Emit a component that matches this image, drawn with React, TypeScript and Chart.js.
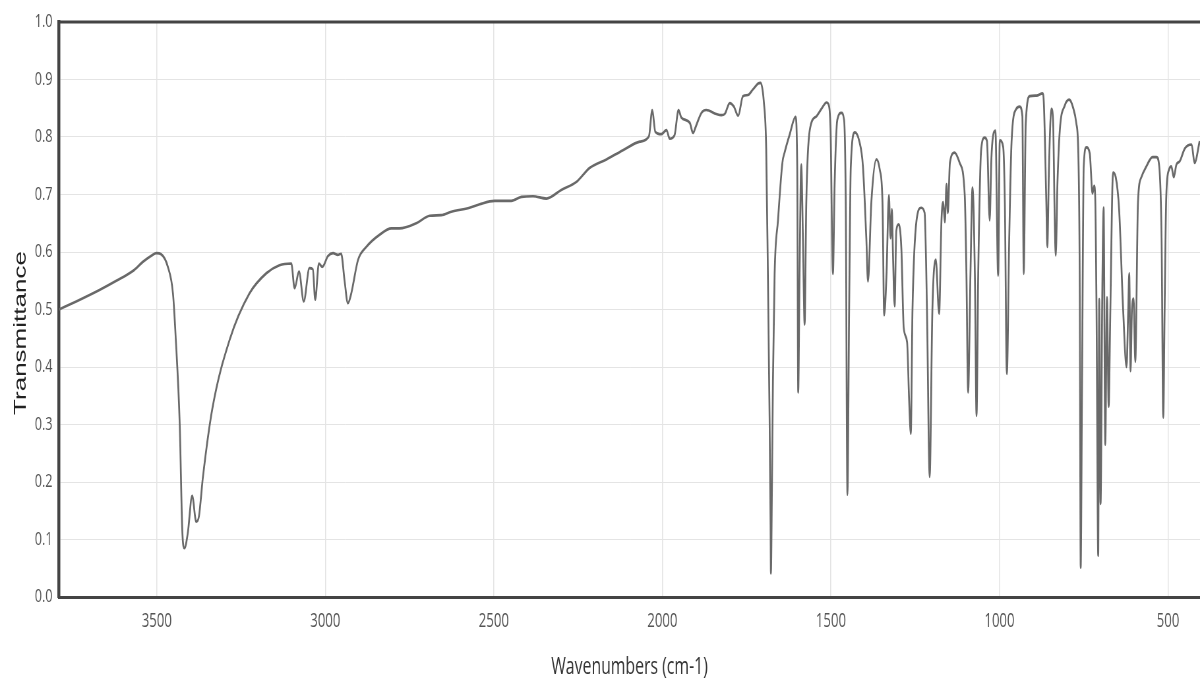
import React, { useEffect, useRef } from "react";
import { Chart, registerables } from "chart.js";

Chart.register(...registerables);

// ---- data ----
const wavenumbers: number[] = [
  3790, 3739, 3670, 3620, 3571, 3541, 3515, 3501, 3487, 3467, 3452, 3444, 3432, 3424, 3418, 3408, 3395, 3383, 3375, 3363,
  3335, 3284, 3225, 3175, 3136, 3101, 3091, 3078, 3064, 3047, 3037, 3030, 3019, 3009, 2992, 2977, 2963, 2953, 2943, 2933,
  2923, 2903, 2878, 2839, 2804, 2780, 2730, 2690, 2656, 2626, 2572, 2542, 2498, 2448, 2418, 2384, 2344, 2300, 2255, 2216,
  2166, 2117, 2067, 2040, 2030, 2021, 2003, 1988, 1978, 1964, 1952, 1944, 1919, 1909, 1901, 1884, 1870, 1840, 1825, 1815,
  1800, 1788, 1775, 1761, 1746, 1731, 1716, 1709, 1699, 1692, 1687, 1682, 1679, 1678, 1675, 1672, 1667, 1657, 1644, 1637,
  1622, 1605, 1600, 1597, 1593, 1588, 1583, 1578, 1573, 1563, 1543, 1528, 1513, 1506, 1501, 1494, 1489, 1481, 1469, 1461,
  1456, 1451, 1446, 1441, 1429, 1416, 1405, 1395, 1390, 1380, 1365, 1355, 1347, 1342, 1335, 1328, 1323, 1319, 1316, 1311,
  1306, 1299, 1291, 1284, 1274, 1268, 1263, 1258, 1246, 1232, 1222, 1215, 1207, 1199, 1189, 1179, 1172, 1167, 1162, 1157,
  1153, 1147, 1133, 1118, 1103, 1098, 1093, 1086, 1080, 1073, 1068, 1063, 1054, 1044, 1037, 1029, 1024, 1019, 1012, 1004,
  999, 989, 984, 978, 971, 964, 950, 940, 932, 928, 922, 910, 890, 872, 868, 861, 858, 853, 846, 841,
  836, 833, 828, 821, 806, 793, 782, 772, 766, 762, 759, 755, 750, 742, 732, 724, 719, 716, 712, 707,
  704, 700, 695, 691, 686, 681, 676, 671, 663, 655, 645, 633, 623, 618, 615, 611, 607, 602, 597, 589,
  579, 564, 546, 534, 526, 519, 514, 510, 505, 497, 490, 483, 475, 465, 450, 430, 421, 406,
];

const transmittance: number[] = [
  0.500, 0.514, 0.534, 0.550, 0.567, 0.583, 0.594, 0.598, 0.596, 0.574, 0.528, 0.453, 0.302, 0.111, 0.085, 0.111, 0.176, 0.131, 0.140, 0.209,
  0.328, 0.447, 0.528, 0.563, 0.577, 0.580, 0.537, 0.566, 0.514, 0.572, 0.570, 0.517, 0.580, 0.574, 0.593, 0.598, 0.595, 0.597, 0.551, 0.511,
  0.528, 0.586, 0.609, 0.630, 0.641, 0.641, 0.650, 0.663, 0.664, 0.670, 0.677, 0.683, 0.689, 0.689, 0.696, 0.697, 0.693, 0.708, 0.722, 0.746,
  0.761, 0.777, 0.792, 0.801, 0.847, 0.809, 0.805, 0.812, 0.797, 0.803, 0.847, 0.834, 0.825, 0.807, 0.818, 0.842, 0.847, 0.840, 0.838, 0.840,
  0.859, 0.853, 0.837, 0.871, 0.873, 0.883, 0.893, 0.894, 0.861, 0.780, 0.562, 0.312, 0.125, 0.041, 0.187, 0.375, 0.562, 0.655, 0.755, 0.774,
  0.805, 0.835, 0.749, 0.356, 0.562, 0.752, 0.624, 0.474, 0.687, 0.811, 0.836, 0.849, 0.860, 0.855, 0.811, 0.562, 0.718, 0.830, 0.842, 0.830,
  0.687, 0.178, 0.499, 0.749, 0.808, 0.793, 0.749, 0.624, 0.549, 0.687, 0.761, 0.743, 0.687, 0.490, 0.562, 0.699, 0.624, 0.674, 0.599, 0.506,
  0.637, 0.648, 0.606, 0.468, 0.443, 0.343, 0.284, 0.499, 0.655, 0.677, 0.668, 0.499, 0.209, 0.499, 0.587, 0.493, 0.655, 0.687, 0.652, 0.718,
  0.668, 0.755, 0.773, 0.755, 0.699, 0.562, 0.356, 0.562, 0.712, 0.562, 0.315, 0.562, 0.780, 0.799, 0.793, 0.655, 0.761, 0.802, 0.811, 0.559,
  0.794, 0.783, 0.687, 0.388, 0.624, 0.793, 0.849, 0.853, 0.836, 0.562, 0.824, 0.871, 0.872, 0.876, 0.855, 0.687, 0.609, 0.749, 0.849, 0.830,
  0.655, 0.594, 0.718, 0.811, 0.855, 0.865, 0.852, 0.824, 0.771, 0.562, 0.051, 0.375, 0.749, 0.782, 0.771, 0.702, 0.715, 0.696, 0.499, 0.072,
  0.518, 0.162, 0.524, 0.677, 0.265, 0.521, 0.331, 0.499, 0.738, 0.730, 0.674, 0.499, 0.400, 0.499, 0.563, 0.393, 0.499, 0.519, 0.409, 0.687,
  0.730, 0.749, 0.765, 0.765, 0.749, 0.624, 0.312, 0.499, 0.699, 0.743, 0.749, 0.730, 0.752, 0.758, 0.780, 0.787, 0.755, 0.793,
];

const xTickValues: number[] = [3500, 3000, 2500, 2000, 1500, 1000, 500];
const yTickValues: number[] = [0, 0.1, 0.2, 0.3, 0.4, 0.5, 0.6, 0.7, 0.8, 0.9, 1.0];
const xRange = { min: 405, max: 3790 };
const yRange = { min: 0, max: 1 };
const xTitle = "Wavenumbers (cm-1)";
const yTitle = "Transmittance";

// The reference is horizontally compressed; render wide and squeeze.
const VIEW_W = 1200;
const VIEW_H = 682;
const INNER_W = 1820;
const SQUEEZE = VIEW_W / INNER_W;

const frameAndTitlePlugin = {
  id: "frameAndTitle",
  afterDraw(chart: any) {
    const { ctx, chartArea } = chart;
    ctx.save();
    ctx.strokeStyle = "#444";
    ctx.lineWidth = 3;
    ctx.beginPath();
    ctx.moveTo(chartArea.left - 2, chartArea.top);
    ctx.lineTo(chartArea.right, chartArea.top);
    ctx.stroke();

    ctx.translate(31.5, 333);
    ctx.rotate(-Math.PI / 2);
    ctx.fillStyle = "#222";
    ctx.font = "26px 'Liberation Sans', Arial, sans-serif";
    ctx.textAlign = "center";
    ctx.textBaseline = "middle";
    ctx.fillText(yTitle, 0, 0);
    ctx.restore();
  },
};

export default function App() {
  const ref = useRef<HTMLCanvasElement>(null);

  useEffect(() => {
    if (!ref.current) return;
    const points = wavenumbers.map((w, i) => ({ x: w, y: transmittance[i] }));
    const chart = new Chart(ref.current, {
      type: "line",
      data: {
        datasets: [
          {
            data: points,
            borderColor: "#696969",
            borderWidth: 2.7,
            pointRadius: 0,
            cubicInterpolationMode: "monotone",
            fill: false,
          },
        ],
      },
      options: {
        animation: false,
        responsive: false,
        maintainAspectRatio: false,
        layout: { padding: { top: 22, right: 0, left: 0, bottom: 0 } },
        plugins: {
          legend: { display: false },
          tooltip: { enabled: false },
        },
        scales: {
          x: {
            type: "linear",
            reverse: true,
            min: xRange.min,
            max: xRange.max,
            afterBuildTicks: (s: any) => {
              s.ticks = xTickValues.map((v) => ({ value: v }));
            },
            afterFit: (s: any) => {
              s.height = 85;
            },
            ticks: {
              padding: 12,
              color: "#555",
              font: { family: "'Open Sans', sans-serif", size: 20 },
              maxRotation: 0,
              autoSkip: false,
              callback: (v: any) => String(v),
            },
            grid: { color: "#e4e4e4", lineWidth: 1.5, drawTicks: false },
            border: { display: true, color: "#444", width: 3 },
            title: {
              display: true,
              text: xTitle,
              color: "#333",
              font: { family: "'Open Sans', sans-serif", size: 24 },
              padding: { top: 0, bottom: 0 },
            },
          },
          y: {
            type: "linear",
            min: yRange.min,
            max: yRange.max,
            afterBuildTicks: (s: any) => {
              s.ticks = yTickValues.map((v) => ({ value: v }));
            },
            afterFit: (s: any) => {
              s.width = 89.5;
            },
            ticks: {
              padding: 10,
              color: "#555",
              font: { family: "'Open Sans', sans-serif", size: 19 },
              autoSkip: false,
              callback: (v: any) => Number(v).toFixed(1),
            },
            grid: { color: "#e4e4e4", lineWidth: 1, drawTicks: false },
            border: { display: true, color: "#444", width: 4.5 },
          },
        },
      },
      plugins: [frameAndTitlePlugin],
    });
    return () => chart.destroy();
  }, []);

  return (
    <div
      style={{
        position: "fixed",
        left: 0,
        top: 0,
        width: VIEW_W,
        height: VIEW_H,
        overflow: "hidden",
        background: "#fff",
      }}
    >
      <div
        style={{
          width: INNER_W,
          height: VIEW_H,
          transform: `scaleX(${SQUEEZE})`,
          transformOrigin: "0 0",
        }}
      >
        <canvas
          ref={ref}
          width={INNER_W}
          height={VIEW_H}
          style={{ width: INNER_W, height: VIEW_H, display: "block" }}
        />
      </div>
    </div>
  );
}
